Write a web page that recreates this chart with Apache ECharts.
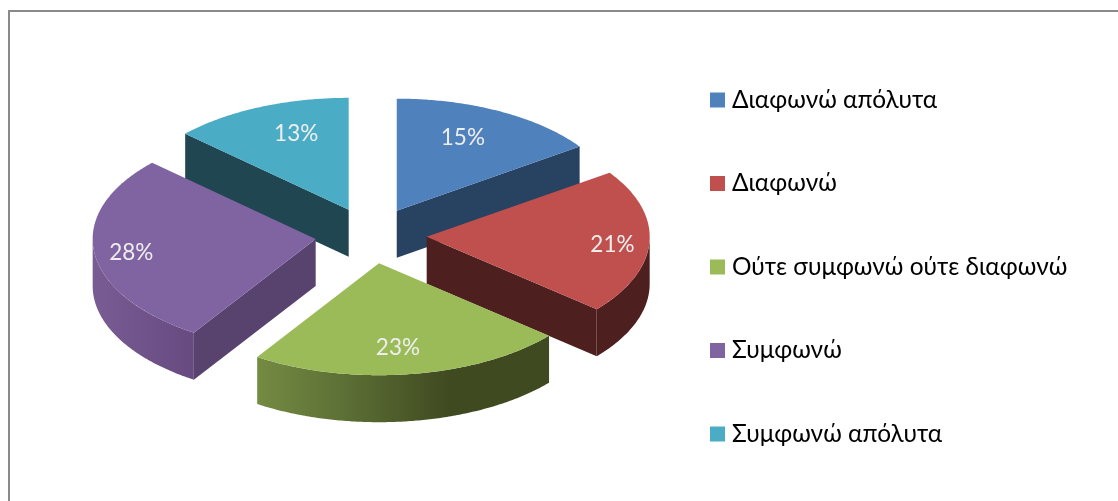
<!DOCTYPE html>
<html>
<head>
<meta charset="utf-8">
<style>html,body{margin:0;padding:0;background:#fff}#c{width:1118px;height:501px}</style>
<script src="https://cdn.jsdelivr.net/npm/echarts@6/dist/echarts.min.js"></script>
</head>
<body>
<div id="c"></div>
<script>
const categories = ['Διαφωνώ απόλυτα', 'Διαφωνώ', 'Ούτε συμφωνώ ούτε διαφωνώ', 'Συμφωνώ', 'Συμφωνώ απόλυτα'];
const values = [15.3, 20.9, 23.0, 27.7, 13.1];
const topColors = ['#4f81bd', '#c0504d', '#9bbb59', '#8064a2', '#4bacc6'];
const wallColors = ['#284261', '#4d1f1e', '#3f4a20', '#58436e', '#1f4651'];
const rimStops = [
  [[0, '#284261'], [1, '#284261']],
  [[0, '#4d1f1e'], [1, '#4d1f1e']],
  [[0, '#748b43'], [0.3, '#5c6f35'], [0.66, '#3f4a20'], [1, '#3f4a20']],
  [[0, '#785c93'], [1, '#664a80']],
  [[0, '#1f4651'], [1, '#1f4651']]
];

const FONT = 'Lato, "Open Sans", "Noto Sans", sans-serif';
const CX = 371, CY = 235.5, RX = 223, RY = 112, DEPTH = 47, EXPLODE = 0.25;
const LABEL_INSET_X = 37, LABEL_INSET_Y = 26, LABEL_RAMP = 90, LABEL_SIDE_DROP = 4;
const total = values.reduce((a, b) => a + b, 0);
const TAU = Math.PI * 2;

function slice(i) {
  const before = values.slice(0, i).reduce((a, b) => a + b, 0);
  const s = before / total * TAU, e = (before + values[i]) / total * TAU, m = (s + e) / 2;
  return { s, e, m, ox: CX + RX * EXPLODE * Math.sin(m), oy: CY - RY * EXPLODE * Math.cos(m) };
}
function arc(sl, a0, a1, dy) {
  const pts = [], n = Math.max(2, Math.ceil((a1 - a0) / 0.01));
  for (let k = 0; k <= n; k++) {
    const a = a0 + (a1 - a0) * k / n;
    pts.push([sl.ox + RX * Math.sin(a), sl.oy - RY * Math.cos(a) + dy]);
  }
  return pts;
}
function inset(v, size) {
  return Math.sign(v) * size * Math.min(1, Math.abs(v) / LABEL_RAMP);
}
function renderSlice(i) {
  const sl = slice(i), kids = [];
  const wall = a => {
    const p = [sl.ox + RX * Math.sin(a), sl.oy - RY * Math.cos(a)];
    kids.push({ type: 'polygon', shape: { points: [[sl.ox, sl.oy], p, [p[0], p[1] + DEPTH], [sl.ox, sl.oy + DEPTH]] },
      style: { fill: wallColors[i] } });
  };
  if (Math.sin(sl.s) < -1e-6) wall(sl.s);
  if (Math.sin(sl.e) > 1e-6) wall(sl.e);
  const r0 = Math.max(sl.s, Math.PI / 2), r1 = Math.min(sl.e, Math.PI * 1.5);
  if (r1 > r0) {
    const pts = arc(sl, r0, r1, 0).concat(arc(sl, r0, r1, DEPTH).reverse());
    kids.push({ type: 'polygon', shape: { points: pts }, style: { fill: {
      type: 'linear', x: 0, y: 0, x2: 1, y2: 0,
      colorStops: rimStops[i].map(([offset, color]) => ({ offset, color })) } } });
  }
  kids.push({ type: 'polygon', shape: { points: [[sl.ox, sl.oy]].concat(arc(sl, sl.s, sl.e, 0)) }, style: { fill: topColors[i] } });
  const ex = RX * Math.sin(sl.m), ey = -RY * Math.cos(sl.m);
  kids.push({ type: 'text', style: {
    x: sl.ox + ex - inset(ex, LABEL_INSET_X),
    y: sl.oy + ey - inset(ey, LABEL_INSET_Y) + LABEL_SIDE_DROP * Math.sin(sl.m) ** 2,
    text: Math.round(values[i] / total * 100) + '%',
    fill: '#eeeeee', font: '22.5px ' + FONT, align: 'center', verticalAlign: 'middle' } });
  return { type: 'group', children: kids };
}

const series = categories.map((name, i) => ({
  name, type: 'custom', coordinateSystem: 'none', silent: true, clip: false,
  z: 10 - Math.cos(slice(i).m),
  itemStyle: { color: topColors[i] },
  data: [[values[i]]],
  renderItem: () => renderSlice(i)
}));

const chart = echarts.init(document.getElementById('c'), null, { renderer: 'canvas' });
chart.setOption({
  animation: false,
  backgroundColor: '#ffffff',
  graphic: [
    { type: 'rect', shape: { x: 8, y: 10, width: 1110, height: 2 }, style: { fill: '#8a8a8a' }, silent: true },
    { type: 'rect', shape: { x: 8, y: 10, width: 2, height: 491 }, style: { fill: '#8a8a8a' }, silent: true }
  ],
  legend: {
    orient: 'vertical', left: 710, top: 88, icon: 'rect', itemWidth: 15, itemHeight: 15, itemGap: 59.5,
    padding: 0, selectedMode: false, data: categories,
    textStyle: { color: '#000000', fontFamily: FONT, fontSize: 24.4, lineHeight: 15, padding: [0, 0, 0, 2] }
  },
  series
});
</script>
</body>
</html>
